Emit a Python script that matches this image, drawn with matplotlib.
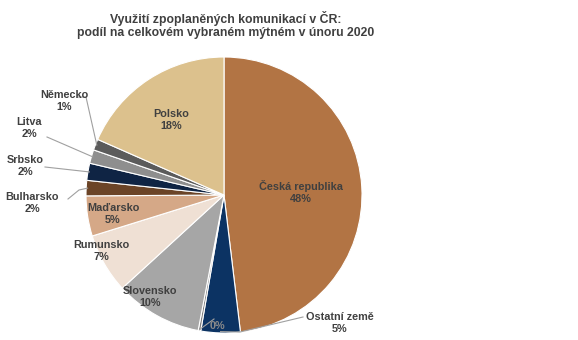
#!/usr/bin/env python3

import numpy as np
import matplotlib.pyplot as plt

plt.rcParams['font.family'] = ['Liberation Sans', 'DejaVu Sans']

# data (share of total toll, %)
names = ['Česká republika', 'Ostatní země', '', 'Slovensko', 'Rumunsko', 'Maďarsko',
         'Bulharsko', 'Srbsko', 'Litva', 'Německo', 'Polsko']
values = [48.1, 4.6, 0.3, 10.2, 7.0, 4.7, 1.8, 2.0, 1.6, 1.3, 18.4]
colors = ['#B27444', '#0C3363', '#7F7F7F', '#A6A6A6', '#EFE0D4', '#D5A887',
          '#6B4427', '#0F2444', '#8E8E8E', '#5B5B5B', '#DCC18D']

# label centres in pixels (y measured from top)
label_pos = [(301, 192), (340, 323), (217, 326), (150, 297), (101, 251), (113, 214),
             (32, 203), (25, 166), (29, 128), (64, 101), (171, 120)]
# leader line start near label (None = label inside slice)
leader_from = [None, [(303, 317), (240, 332)], [(214, 319)], None, None, None,
               [(68, 199), (79, 190)], [(45, 167)], [(47, 137)], [(78, 97), (86, 97)], None]

W, H = 578, 340


def main():
	fig = plt.figure(figsize=(W / 100, H / 100), dpi=100)
	ax = fig.add_axes([0, 0, 1, 1])
	cx, cy, r = 224, H - 195, 138
	wedges, _ = ax.pie(values, colors=colors, startangle=90, counterclock=False,
	                   center=(cx, cy), radius=r,
	                   wedgeprops=dict(edgecolor='white', linewidth=0.8))
	ax.set_xlim(0, W)
	ax.set_ylim(0, H)
	ax.set_aspect('equal')
	ax.axis('off')

	for i, w in enumerate(wedges):
		pct = '%.0f%%' % values[i]
		txt = names[i] + '\n' + pct if names[i] else pct
		lx, ly = label_pos[i]
		col = '#404040'
		if i == 2:
			col = '#8A8A8A'
		if leader_from[i] is not None:
			mid = np.deg2rad((w.theta1 + w.theta2) / 2)
			ex, ey = cx + r * 0.99 * np.cos(mid), cy + r * 0.99 * np.sin(mid)
			xs = [p[0] for p in leader_from[i]] + [ex]
			ys = [H - p[1] for p in leader_from[i]] + [ey]
			ax.plot(xs, ys, color='#A0A0A0', lw=0.8, zorder=3)
		ax.text(lx, H - ly, txt, ha='center', va='center', fontsize=7.8,
		        fontweight='bold', color=col, linespacing=1.2, zorder=4)

	fig.text(226 / W, 1 - 25 / H,
	         'Využití zpoplaněných komunikací v ČR:\npodíl na celkovém vybraném mýtném v únoru 2020',
	         ha='center', va='center', fontsize=8.8, fontweight='bold', color='#404040',
	         linespacing=1.2)
	fig.savefig('out.png', dpi=100)


if __name__ == "__main__":
	main()
